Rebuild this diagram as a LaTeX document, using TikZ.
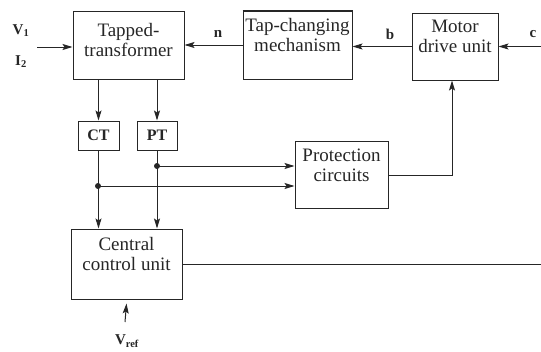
\documentclass[tikz,border=0pt]{standalone}
\usepackage{fontspec}
\setmainfont{Liberation Serif}
\usetikzlibrary{arrows.meta}
\newcommand{\blockfont}{\fontsize{19}{20}\selectfont}
\newcommand{\tagfont}{\fontsize{15}{17}\selectfont\bfseries}
\newcommand{\joindot}[1]{\fill (#1) circle[radius=3pt];}

\begin{document}
\begin{tikzpicture}[x=1pt,y=-1pt,line width=1pt,color=black!85,
  block/.style={draw,inner sep=0pt,align=center,font=\blockfont},
  sig/.style={-{Stealth[length=10pt,width=6pt,inset=2pt]}}]
\useasboundingbox (0,0) rectangle (541,351);
\node[block,minimum width=111pt,minimum height=68pt] (tt) at (128.5,45) {Tapped-\\transformer\\[-10pt]\mbox{}};
\node[block,minimum width=109pt,minimum height=68pt] (tc) at (297.5,45) {Tap-changing\\mechanism\\\mbox{}};
\node[block,minimum width=86pt,minimum height=67pt] (md) at (455,46.5) {Motor\\drive unit\\\mbox{}};
\node[block,minimum width=41pt,minimum height=29pt,font=\fontsize{16}{18}\selectfont\bfseries] (ct) at (98.5,135.5) {CT};
\node[block,minimum width=40pt,minimum height=29pt,font=\fontsize{16}{18}\selectfont\bfseries] (pt) at (157,135.5) {PT};
\node[block,minimum width=93pt,minimum height=67pt] (pc) at (341.5,175) {Protection\\circuits\\\mbox{}};
\node[block,minimum width=111pt,minimum height=70pt] (cc) at (126.5,264) {Central\\control unit\\\mbox{}};
\draw[line width=2pt] (tc.north west) -- (tc.north east);
\node[font=\tagfont] (v1) at (21,31) {V\textsubscript{1}};
\node[font=\tagfont] (i2) at (21,62) {I\textsubscript{2}};
\node[font=\tagfont] (n) at (218,34) {n};
\node[font=\tagfont] (b) at (390,34) {b};
\node[font=\tagfont] (c) at (533,34) {c};
\node[font=\tagfont] (vref) at (127,341) {V\textsubscript{ref}};
\coordinate (vin) at (37,47);
\coordinate (cin) at (541,46.5);
\coordinate (ccout) at (541,264);
\coordinate (rin) at (125,322);
\coordinate (ptj) at (157,166);
\coordinate (ctj) at (98,186);
\draw[sig] (vin) -- (vin -| tt.west);
\draw[sig] (cin) -- (md.east);
\draw[sig] (md.west) -- (md.west -| tc.east);
\draw[sig] (tc.west) -- (tc.west -| tt.east);
\draw[sig] (ct.north |- tt.south) -- (ct.north);
\draw[sig] (pt.north |- tt.south) -- (pt.north);
\draw[sig] (ct.south) -- (ct.south |- cc.north);
\draw[sig] (pt.south) -- (pt.south |- cc.north);
\draw[sig] (ptj) -- (ptj -| pc.west);
\draw[sig] (ctj) -- (ctj -| pc.west);
\joindot{ptj}
\joindot{ctj}
\draw[sig] (pc.east) -| ([xshift=-3pt]md.south);
\draw (cc.east) -- (ccout);
\draw[sig] (rin) -- ([yshift=-4pt]cc.south);
\end{tikzpicture}
\end{document}
